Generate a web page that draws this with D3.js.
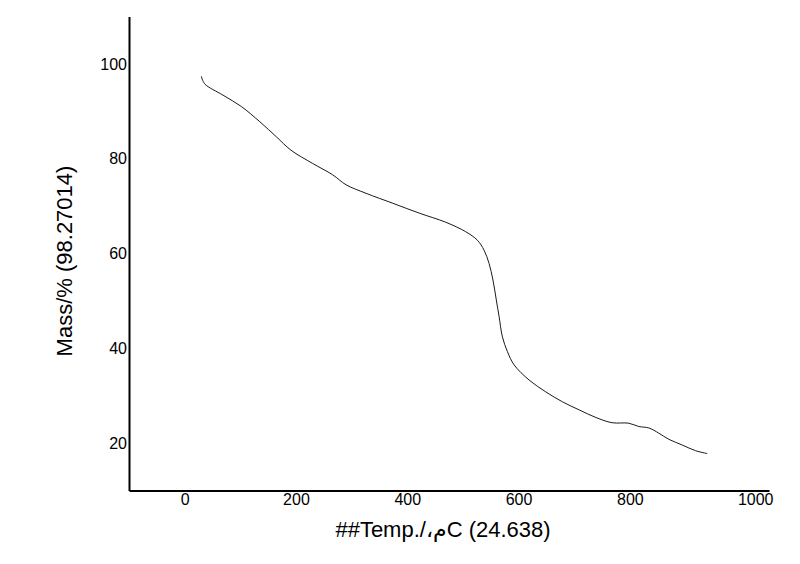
<!DOCTYPE html>
<html>
<head>
<meta charset="utf-8">
<script src="https://cdn.jsdelivr.net/npm/d3@7"></script>
<style>
  html, body { margin: 0; padding: 0; background: #fff; }
  svg { display: block; }
  text { font-family: Arial, "Liberation Sans", "DejaVu Sans", sans-serif; fill: #000; }
</style>
</head>
<body>
<svg id="chart" width="800" height="564"></svg>
<script>
// ---- data ----
const temperature = [30, 36, 69, 102, 135, 165, 191, 230, 266, 290, 326, 374, 422, 469, 505, 526, 538, 547, 554, 560, 565, 571, 580, 592, 619, 649, 679, 709, 739, 768, 798, 816, 834, 852, 870, 894, 918, 939];
const mass = [97.4, 95.8, 93.4, 91.0, 87.8, 84.6, 81.8, 79.0, 76.6, 74.5, 72.7, 70.6, 68.5, 66.6, 64.6, 62.8, 60.7, 57.9, 54.4, 50.2, 46.7, 42.4, 39.3, 36.5, 33.3, 30.8, 28.7, 27.0, 25.4, 24.3, 24.2, 23.5, 23.2, 22.1, 20.8, 19.6, 18.4, 17.8];
const xTicks = [0, 200, 400, 600, 800, 1000];
const yTicks = [20, 40, 60, 80, 100];
const xTitle = "##Temp./\u060C\u0645C (24.638)";
const yTitle = "Mass/% (98.27014)";

// ---- layout ----
const svg = d3.select("#chart");
const x = d3.scaleLinear().domain([-100, 1050]).range([129, 769]);
const y = d3.scaleLinear().domain([10, 110]).range([490.5, 16.5]);

// curve
const line = d3.line().x((d, i) => x(temperature[i])).y(d => y(d)).curve(d3.curveCatmullRom.alpha(0.5));
svg.append("path")
  .datum(mass)
  .attr("d", line)
  .attr("fill", "none")
  .attr("stroke", "#1a1a1a")
  .attr("stroke-width", 1);

// x axis
const xAxis = svg.append("g")
  .attr("transform", `translate(0,${y(10)})`)
  .call(d3.axisBottom(x).tickValues(xTicks).tickSize(0).tickPadding(3).tickFormat(d3.format("d")));
xAxis.select(".domain").attr("stroke", "#000").attr("stroke-width", 2);
xAxis.selectAll(".tick text").style("font-size", "16px");
xAxis.selectAll(".tick text").filter(d => d === 1000).attr("dx", 14);

// y axis
const yAxis = svg.append("g")
  .attr("transform", `translate(${x(-100)},0)`)
  .call(d3.axisLeft(y).tickValues(yTicks).tickSize(0).tickPadding(2).tickFormat(d3.format("d")));
yAxis.select(".domain").attr("stroke", "#000").attr("stroke-width", 2);
yAxis.selectAll(".tick text").style("font-size", "16px");

// titles
svg.append("text")
  .attr("x", 443).attr("y", 537)
  .attr("text-anchor", "middle")
  .style("font-size", "22px")
  .text(xTitle);

svg.append("text")
  .attr("transform", "translate(72,261) rotate(-90)")
  .attr("text-anchor", "middle")
  .style("font-size", "22px")
  .text(yTitle);
</script>
</body>
</html>
